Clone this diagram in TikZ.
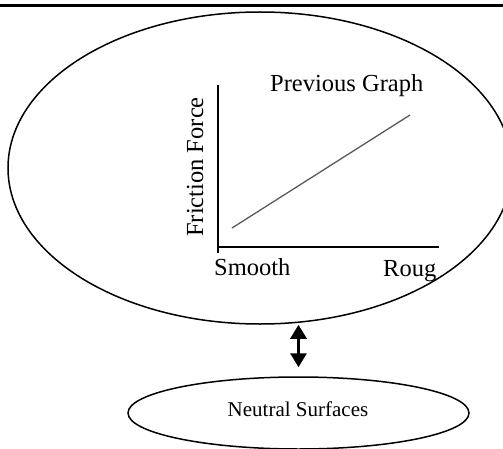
\documentclass[tikz,border=0pt]{standalone}
\usepackage{fontspec}
\setmainfont{Liberation Serif}
\usetikzlibrary{shapes.geometric,arrows.meta}
\tikzset{
  oval/.style={draw=black, line width=1.5pt, ellipse, inner sep=0pt},
  axis/.style={draw=black, line width=1.6pt},
  trend/.style={draw=black!65, line width=1.3pt},
  glabel/.style={inner sep=0pt, font=\fontsize{24.5}{28}\selectfont},
  dblarrow/.style={line width=3pt, {Triangle[length=14pt,width=16pt]}-{Triangle[length=14pt,width=16pt]}}
}
\begin{document}
\begin{tikzpicture}
\clip (0,0) rectangle (503pt,448pt);
\useasboundingbox (0,0) rectangle (503pt,448pt);
% top rule
\coordinate (tl) at (0pt,442.7pt);
\coordinate (tr) at (503pt,442.7pt);
\draw[line width=2.5pt] (tl) -- (tr);
% big ellipse
\node[oval, minimum width=504pt, minimum height=312pt] (big) at (260pt,280pt) {};
% small ellipse
\node[oval, minimum width=341pt, minimum height=72pt] (small) at (298.5pt,35pt) {};
\node[inner sep=0pt, anchor=base, font=\fontsize{21}{25}\selectfont] (smalltext) at (298pt,32pt) {Neutral Surfaces};
% arrow
\coordinate (atop) at (big.south -| small.north);
\coordinate (abot) at ([yshift=9pt]small.north);
\draw[dblarrow] (atop) -- (abot);
% graph
\coordinate (org) at (218pt,201pt);
\coordinate (ytop) at (218pt,363pt);
\coordinate (ybot) at (218pt,195pt);
\coordinate (xend) at (439pt,201pt);
\draw[axis] (ybot) -- (ytop);
\draw[axis] (org) -- (xend);
\coordinate (l1) at (232pt,220pt);
\coordinate (l2) at (410pt,333pt);
\draw[trend] (l1) -- (l2);
\node[glabel, anchor=base west] (prev) at (270pt,356pt) {Previous Graph};
\node[glabel, anchor=base west] (smooth) at (214pt,173pt) {Smooth};
\node[glabel, anchor=base west] (rough) at (383pt,172pt) {Roug};
\node[glabel, anchor=base, rotate=90] (ff) at (203pt,281pt) {Friction Force};
\end{tikzpicture}
\end{document}
